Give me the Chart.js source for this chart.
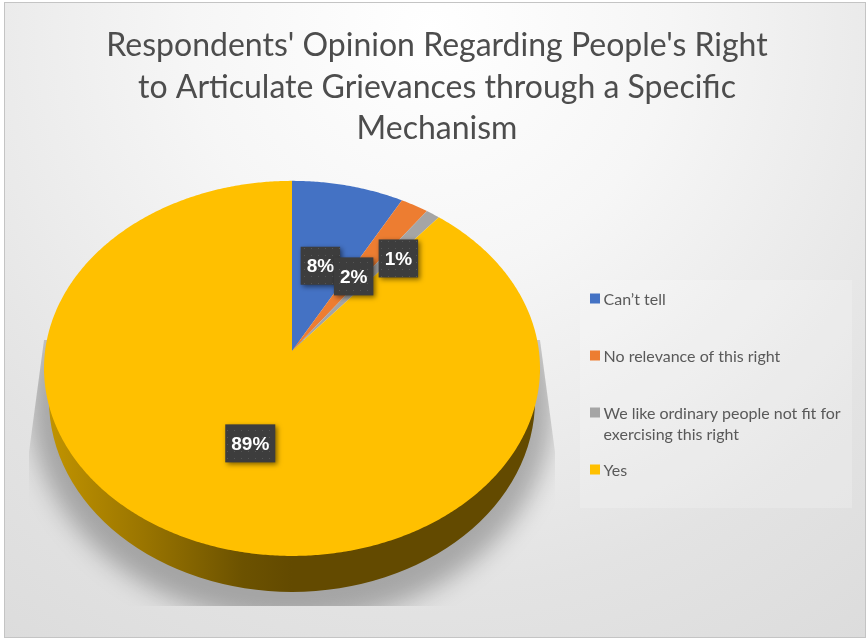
<!DOCTYPE html>
<html>
<head>
<meta charset="utf-8">
<style>
  html, body { margin: 0; padding: 0; background: #fff; }
  canvas { display: block; }
</style>
<script src="https://cdn.jsdelivr.net/npm/chart.js@4/dist/chart.umd.min.js"></script>
</head>
<body>
<canvas id="chart" width="867" height="639"></canvas>
<script>
const categories = [
  "Can\u2019t tell",
  "No relevance of this right",
  "We like ordinary people not fit for exercising this right",
  "Yes"
];
const shares = [8, 2, 1, 89];
const sliceColors = ["#4472c4", "#ed7d31", "#a5a5a5", "#ffc000"];
const titleLines = [
  "Respondents' Opinion Regarding People's Right",
  "to Articulate Grievances through a Specific",
  "Mechanism"
];
// How far out along its slice each value label sits, as a fraction of the radius.
const labelReach = [0.5, 0.5, 0.69, 0.5];
// Small hand adjustments of the value labels, in pixels.
const labelNudgeX = [-1, -2, 7, 2];
const labelNudgeY = [1, 1, 4, 1];

const FONT = "Lato, 'Open Sans', sans-serif";
// Tilt of the disc: foreshortening, vertical stretch and horizontal stretch.
const TILT = 0.0933, SQUASH_Y = 0.7496, SQUASH_X = 0.9956;

// Projects a point on the flat disc (polar, canvas angle) onto the tilted disc.
function project(el, angle, reach) {
  const u = Math.cos(angle) * reach;
  const v = -Math.sin(angle) * reach;
  const d = 1 + TILT * v;
  return {
    x: el.x + el.outerRadius * SQUASH_X * u / d,
    y: el.y - el.outerRadius * SQUASH_Y * v / d
  };
}

// Outline of the rim: front (lower) edge of the top face and of the base.
function rimGeometry(el) {
  const R = el.outerRadius;
  return {
    cx: el.x,
    topY: el.y + 0.0706 * R,
    topRx: R,
    topRy: 0.756 * R,
    baseY: el.y + 0.198 * R,
    baseRx: 0.98 * R,
    baseRy: 0.774 * R
  };
}

class PerspectiveArc extends Chart.ArcElement {
  static id = "perspectiveArc";

  draw(ctx) {
    const props = this.getProps(["x", "y", "startAngle", "endAngle", "outerRadius"]);
    const el = { x: props.x, y: props.y, outerRadius: props.outerRadius };
    const start = props.startAngle, end = props.endAngle;

    // Side wall, only for the slice that faces the viewer.
    if (start <= Math.PI / 2 && end >= Math.PI / 2) {
      const g = rimGeometry(el);
      const grad = ctx.createLinearGradient(g.cx - g.topRx, 0, g.cx, 0);
      grad.addColorStop(0, "#c39500");
      grad.addColorStop(0.4, "#9a7500");
      grad.addColorStop(0.8, "#6c5200");
      grad.addColorStop(1, "#634a00");
      ctx.save();
      ctx.fillStyle = grad;
      ctx.beginPath();
      ctx.moveTo(g.cx + g.topRx, g.topY);
      ctx.lineTo(g.cx + g.baseRx, g.baseY);
      ctx.ellipse(g.cx, g.baseY, g.baseRx, g.baseRy, 0, 0, Math.PI);
      ctx.lineTo(g.cx - g.topRx, g.topY);
      ctx.closePath();
      ctx.fill();
      ctx.restore();
    }

    // Top face of the slice.
    ctx.save();
    ctx.fillStyle = this.options.backgroundColor;
    ctx.beginPath();
    ctx.moveTo(el.x, el.y);
    const steps = Math.max(2, Math.ceil((end - start) / (Math.PI / 360)));
    for (let i = 0; i <= steps; i++) {
      const p = project(el, start + (end - start) * i / steps, 1);
      ctx.lineTo(p.x, p.y);
    }
    ctx.closePath();
    ctx.fill();
    ctx.restore();
  }
}

class SlantedPieController extends Chart.PieController {
  static id = "slantedPie";
  static defaults = { dataElementType: "perspectiveArc" };
}

Chart.register(PerspectiveArc, SlantedPieController);

// Panel background, its frame and the soft shadow under the disc.
const backdrop = {
  id: "backdrop",
  beforeDraw(chart) {
    const ctx = chart.ctx;
    const x = 4, y = 2, w = 862, h = 636;
    const grad = ctx.createRadialGradient(430, 30, 0, 430, 30, 800);
    grad.addColorStop(0, "#ffffff");
    grad.addColorStop(0.3, "#f6f6f6");
    grad.addColorStop(0.7, "#e3e3e3");
    grad.addColorStop(1, "#dadada");
    ctx.save();
    ctx.fillStyle = "#ffffff";
    ctx.fillRect(0, 0, chart.width, chart.height);
    ctx.fillStyle = grad;
    ctx.fillRect(x, y, w, h);
    ctx.strokeStyle = "#c4c4c4";
    ctx.lineWidth = 1;
    ctx.strokeRect(x + 0.5, y + 0.5, w - 1, h - 1);
    ctx.restore();
  },
  beforeDatasetsDraw(chart) {
    const el = chart.getDatasetMeta(0).data[0];
    if (!el) return;
    const g = rimGeometry(el);
    const ctx = chart.ctx;
    ctx.save();
    ctx.beginPath();
    ctx.moveTo(g.cx - g.topRx, el.y - 11);
    ctx.lineTo(g.cx - g.topRx - 15, el.y + 101);
    ctx.lineTo(g.cx - g.topRx - 15, el.y + 255);
    ctx.lineTo(g.cx + g.topRx + 15, el.y + 255);
    ctx.lineTo(g.cx + g.topRx + 15, el.y + 101);
    ctx.lineTo(g.cx + g.topRx, el.y - 11);
    ctx.closePath();
    ctx.clip();
    ctx.filter = "blur(12px)";
    ctx.fillStyle = "rgba(0,0,0,0.27)";
    ctx.beginPath();
    ctx.ellipse(g.cx, g.baseY + 2, g.topRx + 14, g.baseRy + 28, 0, 0, Math.PI * 2);
    ctx.fill();
    ctx.restore();
  }
};

let labelTexture = null;
function getLabelTexture(ctx) {
  if (!labelTexture) {
    const tile = document.createElement("canvas");
    tile.width = 7;
    tile.height = 7;
    const t = tile.getContext("2d");
    t.fillStyle = "#3d3d3d";
    t.fillRect(0, 0, 7, 7);
    t.fillStyle = "#565656";
    t.fillRect(3, 3, 1, 1);
    labelTexture = ctx.createPattern(tile, "repeat");
  }
  return labelTexture;
}

// Dark percentage tags, placed along each slice from the value it carries.
const valueTags = {
  id: "valueTags",
  afterDatasetsDraw(chart) {
    const ctx = chart.ctx;
    const arcs = chart.getDatasetMeta(0).data;
    arcs.forEach((el, i) => {
      const mid = (el.startAngle + el.endAngle) / 2;
      const p = project(el, mid, labelReach[i]);
      p.x += labelNudgeX[i];
      p.y += labelNudgeY[i];
      const text = shares[i] + "%";
      ctx.save();
      ctx.font = "bold 19px 'Liberation Sans', Arial, sans-serif";
      const w = ctx.measureText(text).width + 12;
      const h = 38;
      const left = p.x - w / 2, top = p.y - h / 2;
      ctx.shadowColor = "rgba(0,0,0,0.5)";
      ctx.shadowBlur = 5;
      ctx.shadowOffsetX = 2;
      ctx.shadowOffsetY = 2;
      ctx.fillStyle = getLabelTexture(ctx);
      ctx.fillRect(left, top, w, h);
      ctx.shadowColor = "transparent";
      ctx.fillStyle = "#ffffff";
      ctx.textAlign = "center";
      ctx.textBaseline = "middle";
      ctx.fillText(text, p.x, p.y + 1);
      ctx.restore();
    });
  }
};

// Right-hand legend column, reserved through the chart layout so the title stays
// centred on the whole panel while the pie sits in the remaining space.
function sideLegendBox(chart) {
  return {
    position: "right",
    weight: 0,
    fullSize: false,
    options: {},
    isHorizontal() { return false; },
    update() { this.width = 290; this.height = chart.height; },
    draw() {
      const ctx = chart.ctx;
      const boxX = this.left + 13, textX = this.left + 26.5;
      const firstY = 298.5, pitch = 57, wrapAt = 245, leading = 21;
      ctx.save();
      ctx.fillStyle = "rgba(255,255,255,0.2)";
      ctx.fillRect(this.left + 3, 280, 272, 228);
      ctx.font = "16px " + FONT;
      ctx.textBaseline = "middle";
      categories.forEach((name, i) => {
        const y = firstY + pitch * i;
        ctx.fillStyle = sliceColors[i];
        ctx.fillRect(boxX, y - 5, 10, 10);
        ctx.fillStyle = "#595959";
        const lines = [];
        let line = "";
        name.split(" ").forEach(word => {
          const trial = line ? line + " " + word : word;
          if (ctx.measureText(trial).width > wrapAt && line) {
            lines.push(line);
            line = word;
          } else {
            line = trial;
          }
        });
        lines.push(line);
        lines.forEach((l, n) => ctx.fillText(l, textX, y + 1 + n * leading));
      });
      ctx.restore();
    }
  };
}

const sideLegend = {
  id: "sideLegend",
  beforeInit(chart) {
    Chart.layouts.addBox(chart, sideLegendBox(chart));
  }
};

new Chart(document.getElementById("chart"), {
  type: "slantedPie",
  data: {
    labels: categories,
    datasets: [{
      data: shares,
      backgroundColor: sliceColors,
      borderWidth: 0,
      radius: 248
    }]
  },
  plugins: [backdrop, valueTags, sideLegend],
  options: {
    responsive: false,
    animation: false,
    events: [],
    layout: { padding: { left: 7, right: 0, top: 0, bottom: 87 } },
    plugins: {
      legend: { display: false },
      tooltip: { enabled: false },
      title: {
        display: true,
        text: titleLines,
        color: "#4d4d4d",
        font: { family: FONT, size: 32, weight: "normal", lineHeight: 1.3 },
        padding: { top: 25, bottom: 0 }
      }
    }
  }
});
</script>
</body>
</html>
